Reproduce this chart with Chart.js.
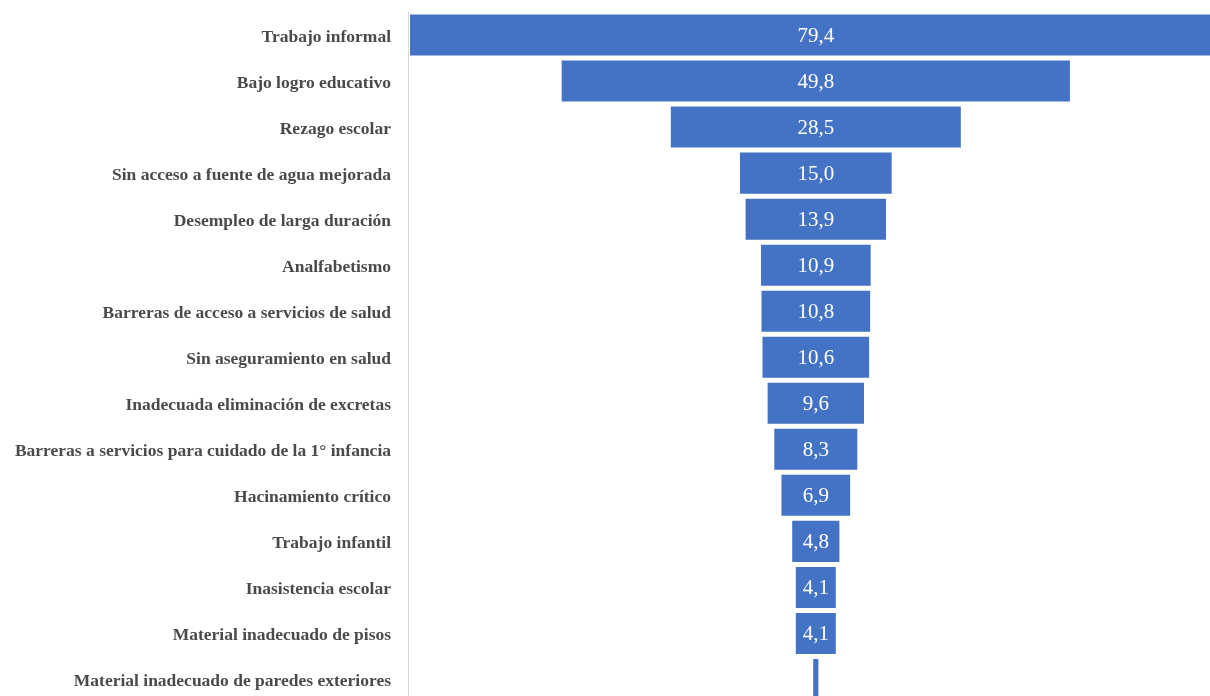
<!DOCTYPE html>
<html>
<head>
<meta charset="utf-8">
<script src="https://cdn.jsdelivr.net/npm/chart.js@4"></script>
<style>
  html, body { margin: 0; padding: 0; background: #fff; overflow: hidden; }
  #wrap { position: absolute; left: 0; top: 0; }
</style>
</head>
<body>
<div id="wrap"><canvas id="funnelChart" width="1240" height="713"></canvas></div>
<script>
// ── 데이터 ──
var categories = [
  'Trabajo informal',
  'Bajo logro educativo',
  'Rezago escolar',
  'Sin acceso a fuente de agua mejorada',
  'Desempleo de larga duración',
  'Analfabetismo',
  'Barreras de acceso a servicios de salud',
  'Sin aseguramiento en salud',
  'Inadecuada eliminación de excretas',
  'Barreras a servicios para cuidado de la 1° infancia',
  'Hacinamiento crítico',
  'Trabajo infantil',
  'Inasistencia escolar',
  'Material inadecuado de pisos',
  'Material inadecuado de paredes exteriores'
];
var values = [79.4, 49.8, 28.5, 15.0, 13.9, 10.9, 10.8, 10.6, 9.6, 8.3, 6.9, 4.8, 4.1, 4.1, 0.7];

var barColor = '#4472C4';

// 막대 중앙 정렬 (퍼널)
var ranges = [];
for (var i = 0; i < values.length; i++) {
  ranges.push([-values[i] / 2, values[i] / 2]);
}

// ── 값 라벨 플러그인 ──
var valueLabels = {
  id: 'valueLabels',
  afterDatasetsDraw: function(chart) {
    var ctx = chart.ctx;
    var meta = chart.getDatasetMeta(0);
    ctx.save();
    ctx.font = '21px "Liberation Serif", "Times New Roman", serif';
    ctx.fillStyle = '#ffffff';
    ctx.textAlign = 'center';
    ctx.textBaseline = 'middle';
    meta.data.forEach(function(bar, i) {
      var txt = values[i].toFixed(1).replace('.', ',');
      var w = Math.abs(bar.x - bar.base);
      if (ctx.measureText(txt).width + 6 > w) return;
      ctx.fillText(txt, (bar.x + bar.base) / 2, bar.y + 1);
    });
    ctx.restore();
  }
};

var ctx = document.getElementById('funnelChart').getContext('2d');
new Chart(ctx, {
  type: 'bar',
  data: {
    labels: categories,
    datasets: [{
      data: ranges,
      backgroundColor: barColor,
      borderColor: '#ffffff',
      borderWidth: 1,
      borderSkipped: false,
      categoryPercentage: 1,
      barPercentage: 0.935
    }]
  },
  options: {
    responsive: false,
    animation: false,
    indexAxis: 'y',
    layout: { padding: { top: 12, left: 0, right: 0, bottom: 0 } },
    plugins: {
      legend: { display: false },
      tooltip: { enabled: false }
    },
    scales: {
      x: {
        display: false,
        min: -39.8,
        max: 41.4
      },
      y: {
        afterFit: function(scale) { scale.width = 408; },
        // 눈금선은 투명, 라벨 간격용으로만 사용
        grid: { display: true, drawOnChartArea: false, drawTicks: true, tickLength: 17, color: 'rgba(0,0,0,0)' },
        border: { display: true, color: '#d9d9d9', width: 1 },
        ticks: {
          padding: 0,
          labelOffset: 2,
          color: '#4a4a4a',
          font: { family: '"Liberation Serif", "Times New Roman", serif', size: 17.5, weight: 'bold' }
        }
      }
    }
  },
  plugins: [valueLabels]
});
</script>
</body>
</html>
